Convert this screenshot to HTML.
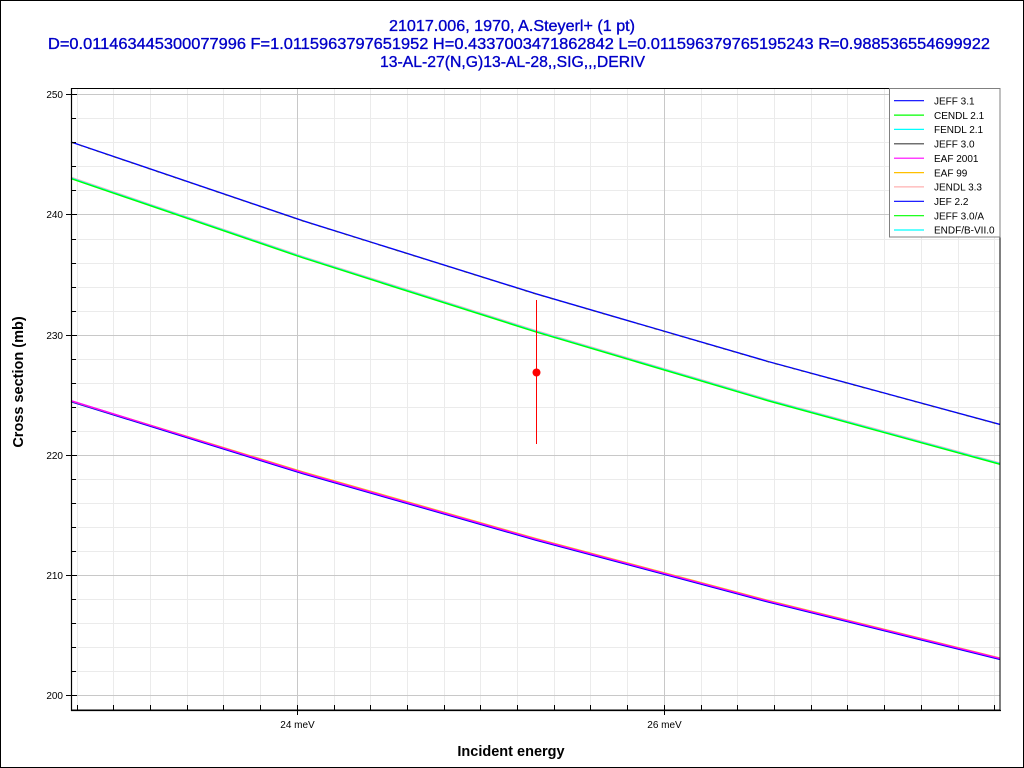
<!DOCTYPE html>
<html>
<head>
<meta charset="utf-8">
<style>
  html, body { margin: 0; padding: 0; background: #ffffff; }
  svg { display: block; }
  text { font-family: "Liberation Sans", Arial, sans-serif; }
</style>
</head>
<body>
<svg width="1024" height="768" viewBox="0 0 1024 768" xmlns="http://www.w3.org/2000/svg">
  <rect x="0" y="0" width="1024" height="768" fill="#ffffff"/>
  <rect x="0.5" y="0.5" width="1023" height="767" fill="none" stroke="#000" stroke-width="1"/>

  <!-- Title -->
  <g fill="#0000c8" stroke="#0000c8" stroke-width="0.35" font-size="16">
    <text x="389" y="31" textLength="246" lengthAdjust="spacingAndGlyphs">21017.006, 1970, A.Steyerl+ (1 pt)</text>
    <text x="48" y="49" textLength="942" lengthAdjust="spacingAndGlyphs">D=0.011463445300077996 F=1.0115963797651952 H=0.4337003471862842 L=0.011596379765195243 R=0.988536554699922</text>
    <text x="380" y="67" textLength="265" lengthAdjust="spacingAndGlyphs">13-AL-27(N,G)13-AL-28,,SIG,,,DERIV</text>
  </g>

  <!-- Minor grid vertical -->
  <g stroke="#ebebeb" stroke-width="1">
    <line x1="77.5" y1="88" x2="77.5" y2="710"/>
    <line x1="113.5" y1="88" x2="113.5" y2="710"/>
    <line x1="150.5" y1="88" x2="150.5" y2="710"/>
    <line x1="187.5" y1="88" x2="187.5" y2="710"/>
    <line x1="223.5" y1="88" x2="223.5" y2="710"/>
    <line x1="260.5" y1="88" x2="260.5" y2="710"/>
    <line x1="334.5" y1="88" x2="334.5" y2="710"/>
    <line x1="370.5" y1="88" x2="370.5" y2="710"/>
    <line x1="407.5" y1="88" x2="407.5" y2="710"/>
    <line x1="444.5" y1="88" x2="444.5" y2="710"/>
    <line x1="480.5" y1="88" x2="480.5" y2="710"/>
    <line x1="517.5" y1="88" x2="517.5" y2="710"/>
    <line x1="554.5" y1="88" x2="554.5" y2="710"/>
    <line x1="590.5" y1="88" x2="590.5" y2="710"/>
    <line x1="627.5" y1="88" x2="627.5" y2="710"/>
    <line x1="701.5" y1="88" x2="701.5" y2="710"/>
    <line x1="737.5" y1="88" x2="737.5" y2="710"/>
    <line x1="774.5" y1="88" x2="774.5" y2="710"/>
    <line x1="811.5" y1="88" x2="811.5" y2="710"/>
    <line x1="847.5" y1="88" x2="847.5" y2="710"/>
    <line x1="884.5" y1="88" x2="884.5" y2="710"/>
    <line x1="921.5" y1="88" x2="921.5" y2="710"/>
    <line x1="958.5" y1="88" x2="958.5" y2="710"/>
    <line x1="994.5" y1="88" x2="994.5" y2="710"/>
  </g>
  <!-- Minor grid horizontal (every 2 mb) -->
  <g stroke="#ebebeb" stroke-width="1">
    <line x1="71" y1="671.5" x2="1000" y2="671.5"/>
    <line x1="71" y1="647.5" x2="1000" y2="647.5"/>
    <line x1="71" y1="623.5" x2="1000" y2="623.5"/>
    <line x1="71" y1="599.5" x2="1000" y2="599.5"/>
    <line x1="71" y1="551.5" x2="1000" y2="551.5"/>
    <line x1="71" y1="527.5" x2="1000" y2="527.5"/>
    <line x1="71" y1="503.5" x2="1000" y2="503.5"/>
    <line x1="71" y1="479.5" x2="1000" y2="479.5"/>
    <line x1="71" y1="431.5" x2="1000" y2="431.5"/>
    <line x1="71" y1="407.5" x2="1000" y2="407.5"/>
    <line x1="71" y1="383.5" x2="1000" y2="383.5"/>
    <line x1="71" y1="359.5" x2="1000" y2="359.5"/>
    <line x1="71" y1="311.5" x2="1000" y2="311.5"/>
    <line x1="71" y1="287.5" x2="1000" y2="287.5"/>
    <line x1="71" y1="263.5" x2="1000" y2="263.5"/>
    <line x1="71" y1="239.5" x2="1000" y2="239.5"/>
    <line x1="71" y1="190.5" x2="1000" y2="190.5"/>
    <line x1="71" y1="166.5" x2="1000" y2="166.5"/>
    <line x1="71" y1="142.5" x2="1000" y2="142.5"/>
    <line x1="71" y1="118.5" x2="1000" y2="118.5"/>
  </g>
  <!-- Major grid -->
  <g stroke="#c8c8c8" stroke-width="1">
    <line x1="297.5" y1="88" x2="297.5" y2="710"/>
    <line x1="664.5" y1="88" x2="664.5" y2="710"/>
    <line x1="71" y1="695.5" x2="1000" y2="695.5"/>
    <line x1="71" y1="575.5" x2="1000" y2="575.5"/>
    <line x1="71" y1="455.5" x2="1000" y2="455.5"/>
    <line x1="71" y1="335.5" x2="1000" y2="335.5"/>
    <line x1="71" y1="214.5" x2="1000" y2="214.5"/>
    <line x1="71" y1="94.5" x2="1000" y2="94.5"/>
  </g>

  <!-- Series -->
  <g fill="none" stroke-width="1.4" stroke-linejoin="round">
    <!-- bottom group -->
    <polyline stroke="#0000ff" points="71,401.7 303,473.7 536,540.2 768,602.0 1000,659.4"/>
    <polyline stroke="#ffc000" points="71,400.9 303,471.9 536,538.6 768,600.4 1000,658.0"/>
    <polyline stroke="#ff00ff" points="71,400.7 303,472.7 536,539.2 768,601.0 1000,658.4"/>
    <!-- middle group -->
    <polyline stroke="#ffb0b0" points="71,177.3 303,256.6 536,330.7 768,399.5 1000,463.0"/>
    <polyline stroke="#00ffff" points="71,178.0 303,257.3 536,331.4 768,400.2 1000,463.7"/>
    <polyline stroke="#00ff00" points="71,178.6 303,257.9 536,332.0 768,400.8 1000,464.3"/>
    <!-- upper group -->
    <polyline stroke="#0000ff" points="71,142.0 303,220.8 536,293.8 768,361.5 1000,424.4"/>
    <polyline stroke="#404040" stroke-width="0.8" stroke-dasharray="3,6" points="71,142.4 303,221.2 536,294.2 768,361.9 1000,424.8"/>
  </g>

  <!-- Data point -->
  <line x1="536.5" y1="300" x2="536.5" y2="444" stroke="#ff0000" stroke-width="1"/>
  <circle cx="536.5" cy="372.5" r="4" fill="#ff0000"/>

  <!-- Plot frame -->
  <rect x="71.5" y="88.5" width="928.5" height="621.5" fill="none" stroke="#000" stroke-width="1"/>
  <line x1="71.5" y1="88" x2="71.5" y2="711" stroke="#000" stroke-width="1.2"/>
  <line x1="71" y1="710.5" x2="1001" y2="710.5" stroke="#000" stroke-width="1.2"/>

  <!-- Y ticks -->
  <g stroke="#000" stroke-width="1">
    <line x1="66" y1="695.5" x2="77" y2="695.5"/>
    <line x1="66" y1="575.5" x2="77" y2="575.5"/>
    <line x1="66" y1="455.5" x2="77" y2="455.5"/>
    <line x1="66" y1="335.5" x2="77" y2="335.5"/>
    <line x1="66" y1="214.5" x2="77" y2="214.5"/>
    <line x1="66" y1="94.5" x2="77" y2="94.5"/>
    <line x1="71" y1="671.5" x2="76" y2="671.5"/>
    <line x1="71" y1="647.5" x2="76" y2="647.5"/>
    <line x1="71" y1="623.5" x2="76" y2="623.5"/>
    <line x1="71" y1="599.5" x2="76" y2="599.5"/>
    <line x1="71" y1="551.5" x2="76" y2="551.5"/>
    <line x1="71" y1="527.5" x2="76" y2="527.5"/>
    <line x1="71" y1="503.5" x2="76" y2="503.5"/>
    <line x1="71" y1="479.5" x2="76" y2="479.5"/>
    <line x1="71" y1="431.5" x2="76" y2="431.5"/>
    <line x1="71" y1="407.5" x2="76" y2="407.5"/>
    <line x1="71" y1="383.5" x2="76" y2="383.5"/>
    <line x1="71" y1="359.5" x2="76" y2="359.5"/>
    <line x1="71" y1="311.5" x2="76" y2="311.5"/>
    <line x1="71" y1="287.5" x2="76" y2="287.5"/>
    <line x1="71" y1="263.5" x2="76" y2="263.5"/>
    <line x1="71" y1="239.5" x2="76" y2="239.5"/>
    <line x1="71" y1="190.5" x2="76" y2="190.5"/>
    <line x1="71" y1="166.5" x2="76" y2="166.5"/>
    <line x1="71" y1="142.5" x2="76" y2="142.5"/>
    <line x1="71" y1="118.5" x2="76" y2="118.5"/>
  </g>
  <!-- X ticks -->
  <g stroke="#000" stroke-width="1">
    <line x1="297.5" y1="705" x2="297.5" y2="715"/>
    <line x1="664.5" y1="705" x2="664.5" y2="715"/>
    <line x1="77.5" y1="705" x2="77.5" y2="710"/>
    <line x1="113.5" y1="705" x2="113.5" y2="710"/>
    <line x1="150.5" y1="705" x2="150.5" y2="710"/>
    <line x1="187.5" y1="705" x2="187.5" y2="710"/>
    <line x1="223.5" y1="705" x2="223.5" y2="710"/>
    <line x1="260.5" y1="705" x2="260.5" y2="710"/>
    <line x1="334.5" y1="705" x2="334.5" y2="710"/>
    <line x1="370.5" y1="705" x2="370.5" y2="710"/>
    <line x1="407.5" y1="705" x2="407.5" y2="710"/>
    <line x1="444.5" y1="705" x2="444.5" y2="710"/>
    <line x1="480.5" y1="705" x2="480.5" y2="710"/>
    <line x1="517.5" y1="705" x2="517.5" y2="710"/>
    <line x1="554.5" y1="705" x2="554.5" y2="710"/>
    <line x1="590.5" y1="705" x2="590.5" y2="710"/>
    <line x1="627.5" y1="705" x2="627.5" y2="710"/>
    <line x1="701.5" y1="705" x2="701.5" y2="710"/>
    <line x1="737.5" y1="705" x2="737.5" y2="710"/>
    <line x1="774.5" y1="705" x2="774.5" y2="710"/>
    <line x1="811.5" y1="705" x2="811.5" y2="710"/>
    <line x1="847.5" y1="705" x2="847.5" y2="710"/>
    <line x1="884.5" y1="705" x2="884.5" y2="710"/>
    <line x1="921.5" y1="705" x2="921.5" y2="710"/>
    <line x1="958.5" y1="705" x2="958.5" y2="710"/>
    <line x1="994.5" y1="705" x2="994.5" y2="710"/>
  </g>

  <!-- Tick labels -->
  <g font-size="10" fill="#000" text-anchor="end">
    <text x="63" y="699">200</text>
    <text x="63" y="579">210</text>
    <text x="63" y="459">220</text>
    <text x="63" y="339">230</text>
    <text x="63" y="218">240</text>
    <text x="63" y="98">250</text>
  </g>
  <g font-size="10" fill="#000" text-anchor="middle">
    <text x="297.5" y="728">24 meV</text>
    <text x="664.5" y="728">26 meV</text>
  </g>

  <!-- Axis titles -->
  <text x="511" y="756" font-size="14.5" font-weight="bold" text-anchor="middle" fill="#000">Incident energy</text>
  <text transform="translate(23,382) rotate(-90)" font-size="14.5" font-weight="bold" text-anchor="middle" fill="#000">Cross section (mb)</text>

  <!-- Legend -->
  <rect x="889.5" y="88.5" width="110.5" height="148.5" fill="#ffffff" stroke="#808080" stroke-width="1"/>
  <g stroke-width="1.2">
    <line x1="894" y1="100.7" x2="924" y2="100.7" stroke="#0000ff"/>
    <line x1="894" y1="115.1" x2="924" y2="115.1" stroke="#00ff00"/>
    <line x1="894" y1="129.4" x2="924" y2="129.4" stroke="#00ffff"/>
    <line x1="894" y1="143.8" x2="924" y2="143.8" stroke="#404040"/>
    <line x1="894" y1="158.2" x2="924" y2="158.2" stroke="#ff00ff"/>
    <line x1="894" y1="172.6" x2="924" y2="172.6" stroke="#ffc000"/>
    <line x1="894" y1="186.9" x2="924" y2="186.9" stroke="#ffb0b0"/>
    <line x1="894" y1="201.3" x2="924" y2="201.3" stroke="#0000ff"/>
    <line x1="894" y1="215.7" x2="924" y2="215.7" stroke="#00ff00"/>
    <line x1="894" y1="230.0" x2="924" y2="230.0" stroke="#00ffff"/>
  </g>
  <g font-size="10" fill="#000">
    <text x="934" y="104.4">JEFF 3.1</text>
    <text x="934" y="118.8">CENDL 2.1</text>
    <text x="934" y="133.1">FENDL 2.1</text>
    <text x="934" y="147.5">JEFF 3.0</text>
    <text x="934" y="161.9">EAF 2001</text>
    <text x="934" y="176.3">EAF 99</text>
    <text x="934" y="190.6">JENDL 3.3</text>
    <text x="934" y="205.0">JEF 2.2</text>
    <text x="934" y="219.4">JEFF 3.0/A</text>
    <text x="934" y="233.7">ENDF/B-VII.0</text>
  </g>
</svg>
</body>
</html>
